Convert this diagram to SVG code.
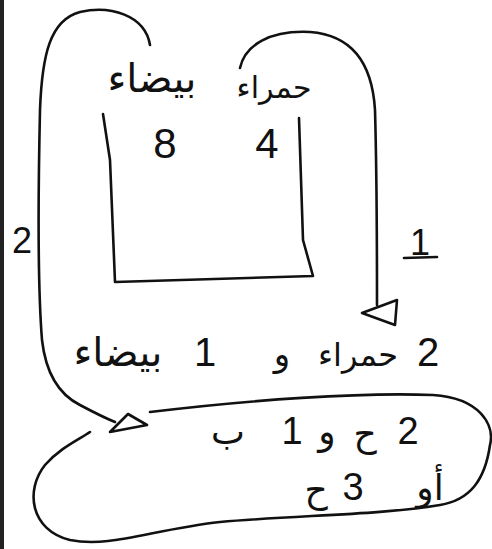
<svg xmlns="http://www.w3.org/2000/svg" width="492" height="549" viewBox="0 0 492 549">
<style>
.ln{fill:none;stroke:#111;stroke-width:2.6;stroke-linecap:round;stroke-linejoin:round}
.ah{fill:#fff;stroke:#111;stroke-width:2.6;stroke-linejoin:round}
.ar{font-family:"DejaVu Sans",sans-serif;fill:#111}
.nm{font-family:"Liberation Sans",sans-serif;fill:#111}
</style>
<rect width="492" height="549" fill="#fff"/>
<rect x="0" y="0" width="4" height="549" fill="#222"/>
<g id="box">
<path class="ln" d="M103,114 L110,160 L115,282 L313,276 L303,240 L299,118"/>
<text class="ar" x="152" y="92" font-size="40" text-anchor="middle">بيضاء</text>
<text class="ar" x="274" y="98" font-size="30" text-anchor="middle">حمراء</text>
<text class="nm" x="165" y="158" font-size="42" text-anchor="middle">8</text>
<text class="nm" x="267" y="158" font-size="42" text-anchor="middle">4</text>
</g>
<g id="middle">
<text class="nm" x="428" y="366" font-size="40" text-anchor="middle">2</text>
<text class="ar" x="358" y="366" font-size="32" text-anchor="middle">حمراء</text>
<text class="ar" x="282" y="366" font-size="34" text-anchor="middle">و</text>
<text class="nm" x="205" y="366" font-size="40" text-anchor="middle">1</text>
<text class="ar" x="118" y="366" font-size="40" text-anchor="middle">بيضاء</text>
</g>
<g id="result">
<path class="ln" d="M150,412 C250,400 360,392 433,395 C480,398 495,425 490,445 C485,480 470,500 440,505 C380,515 300,515 220,522 C150,530 110,548 70,540 C30,530 25,490 45,465 C60,448 78,440 90,432"/>
<text class="nm" x="408" y="444" font-size="38" text-anchor="middle">2</text>
<text class="ar" x="365" y="446" font-size="36" text-anchor="middle">ح</text>
<text class="ar" x="327" y="444" font-size="36" text-anchor="middle">و</text>
<text class="nm" x="292" y="444" font-size="38" text-anchor="middle">1</text>
<text class="ar" x="228" y="444" font-size="36" text-anchor="middle">ب</text>
<text class="ar" x="430" y="500" font-size="36" text-anchor="middle">أو</text>
<text class="nm" x="353" y="500" font-size="38" text-anchor="middle">3</text>
<text class="ar" x="316" y="502" font-size="36" text-anchor="middle">ح</text>
</g>
<g id="connectors">
<path class="ln" d="M150,45 C145,15 110,5 80,12 C50,20 42,55 40,110 C38,200 38,290 42,340 C46,375 60,395 80,405 C95,413 105,418 115,422"/>
<path class="ah" d="M147,425 L110,432 L128,414 Z"/>
<text class="nm" x="22" y="253" font-size="36" text-anchor="middle">2</text>
<path class="ln" d="M240,68 C245,45 270,30 310,32 C350,35 372,60 375,110 C377,180 377,250 377,305"/>
<path class="ah" d="M362,313 L397,300 L395,325 Z"/>
<text class="nm" x="420" y="255" font-size="36" text-anchor="middle">1</text>
<path class="ln" d="M404,258 L437,257"/>
</g>
</svg>
